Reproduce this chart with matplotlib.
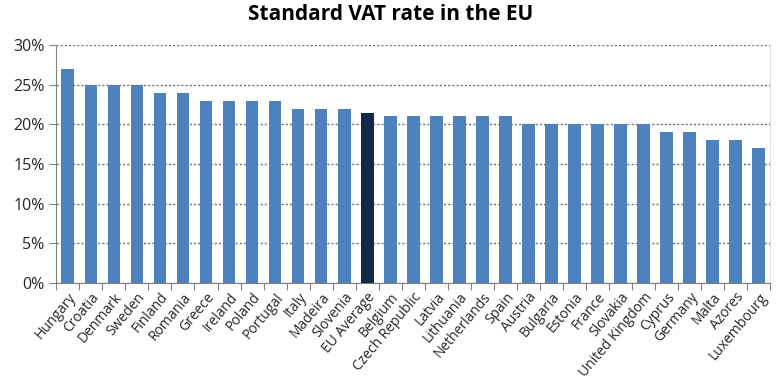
import matplotlib
matplotlib.use("Agg")
import matplotlib.pyplot as plt
from matplotlib.ticker import FixedLocator, PercentFormatter

countries = ["Hungary", "Croatia", "Denmark", "Sweden", "Finland", "Romania", "Greece",
             "Ireland", "Poland", "Portugal", "Italy", "Madeira", "Slovenia", "EU Average",
             "Belgium", "Czech Republic", "Latvia", "Lithuania", "Netherlands", "Spain",
             "Austria", "Bulgaria", "Estonia", "France", "Slovakia", "United Kingdom",
             "Cyprus", "Germany", "Malta", "Azores", "Luxembourg"]
rates = [27, 25, 25, 25, 24, 24, 23, 23, 23, 23, 22, 22, 22, 21.5,
         21, 21, 21, 21, 21, 21, 20, 20, 20, 20, 20, 20, 19, 19, 18, 18, 17]
yticks = [0, 5, 10, 15, 20, 25, 30]

plt.rcParams['font.family'] = ['Open Sans', 'DejaVu Sans']

fig = plt.figure(figsize=(7.82, 3.89), dpi=100)
ax = fig.add_axes([0.072, 0.2725, 0.913, 0.6115])

colors = ["#13294B" if c == "EU Average" else "#4F81BD" for c in countries]
x = list(range(len(countries)))
ax.bar(x, rates, width=0.55, color=colors, zorder=3)

ax.set_xlim(-0.5, len(countries) - 0.5)
ax.set_ylim(0, 30)
ax.yaxis.set_major_locator(FixedLocator(yticks))
ax.yaxis.set_major_formatter(PercentFormatter(decimals=0))
ax.grid(axis='y', linestyle=(0, (1.5, 1.5)), color='#707070', linewidth=1.0, zorder=0)

ax.set_xticks([i - 0.5 for i in range(len(countries) + 1)], minor=False)
ax.set_xticklabels([])
ax.set_xticks(x, minor=True)
ax.set_xticklabels(countries, minor=True, rotation=50, ha='right', rotation_mode='anchor',
                   fontsize=10, color='#262626')
ax.tick_params(axis='x', which='minor', length=0, pad=5)
ax.tick_params(axis='x', which='major', length=5, color='#808080', direction='out')
ax.tick_params(axis='y', length=5, color='#808080', labelsize=11.5, labelcolor='#262626')

ax.spines['top'].set_visible(False)
ax.spines['right'].set_color('#e0e0e0')
ax.spines['left'].set_color('#808080')
ax.spines['bottom'].set_color('#808080')

fig.suptitle("Standard VAT rate in the EU", y=0.99, fontsize=15, fontweight='bold')

fig.savefig("out.png", dpi=100)
